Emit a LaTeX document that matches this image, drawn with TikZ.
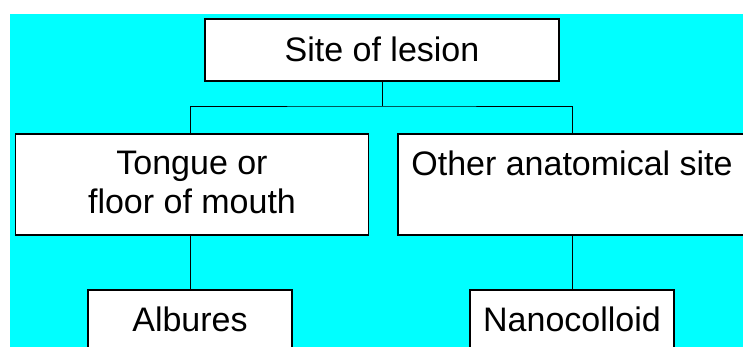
\documentclass[tikz,border=0pt]{standalone}
\usepackage{fontspec}
\setmainfont{Liberation Sans}
\definecolor{panelcyan}{HTML}{00FFFF}
\newcommand{\lowstrut}{\rule[-4pt]{0pt}{4pt}}
\begin{document}
\begin{tikzpicture}[x=1pt,y=-1pt,
  every node/.style={font=\fontsize{34}{39}\selectfont},
  box/.style={draw=black, line width=1.6pt, fill=white, inner sep=0pt, align=center},
  link/.style={draw=black, line width=0.9pt}]
  \useasboundingbox (0,0) rectangle (743,346);
  \clip (0,0) rectangle (743,346);
  % background panel
  \fill[panelcyan] (10,14) rectangle (745,348);

  % boxes
  \node[box, anchor=north, minimum width=354pt, text height=43pt, text depth=19pt]
    (top) at (382,18) {Site of lesion};
  \node[box, minimum width=353pt, minimum height=101pt]
    (left) at (192,184.5) {Tongue or\\floor of mouth\lowstrut};
  \node[box, minimum width=348pt, minimum height=101pt]
    (right) at (572,184.5) {Other anatomical site\\\mbox{}\lowstrut};
  \node[box, anchor=north, minimum width=204pt, text height=42pt, text depth=40pt]
    (alb) at (190,289) {Albures};
  \node[box, anchor=north, minimum width=204pt, text height=42pt, text depth=40pt]
    (nano) at (572,289) {Nanocolloid};

  % connectors
  \coordinate (split) at (382,106);
  \draw[link] (top.south) -- (split);
  \draw[link] (alb.north |- left.north) |- (split) -| (right.north);
  \draw[link] (alb.north) -- (alb.north |- left.south);
  \draw[link] (nano.north) -- (right.south);
\end{tikzpicture}
\end{document}
